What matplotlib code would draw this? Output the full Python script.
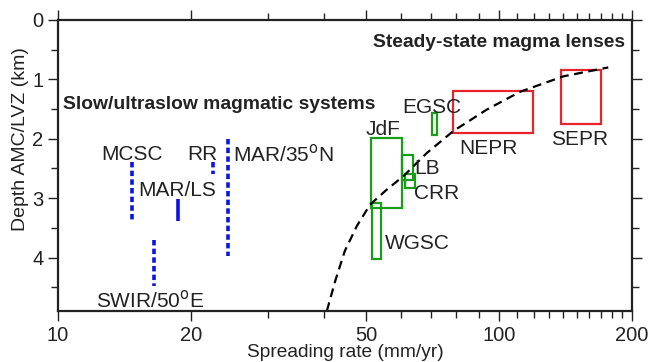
import matplotlib.pyplot as plt
from matplotlib.patches import Rectangle
from matplotlib.ticker import FixedLocator, NullFormatter

plt.rcParams['font.family'] = ['Liberation Sans', 'DejaVu Sans']

# slow/ultraslow systems: vertical depth ranges (blue)
slow_names = ['MCSC', 'SWIR/50$^{\\rm o}$E', 'MAR/LS', 'RR', 'MAR/35$^{\\rm o}$N']
slow_rate = [14.7, 16.5, 18.7, 22.5, 24.3]
slow_top = [2.40, 3.70, 3.01, 2.40, 2.00]
slow_bot = [3.40, 4.48, 3.39, 2.60, 3.98]
slow_dotted = [True, True, False, True, True]

# boxes: rate range and depth range
box_names = ['JdF', 'WGSC', 'LB', 'CRR', 'EGSC', 'NEPR', 'SEPR']
box_rate_lo = [51.2, 51.6, 60.4, 61.2, 70.4, 78.8, 138.0]
box_rate_hi = [60.2, 54.1, 63.7, 64.5, 72.5, 119.2, 170.0]
box_top = [1.99, 3.09, 2.27, 2.60, 1.57, 1.19, 0.84]
box_bot = [3.16, 4.02, 2.69, 2.83, 1.93, 1.90, 1.75]
box_colors = ['#1a9e1a'] * 5 + ['#e8242a'] * 2

# dashed trend line
trend_rate = [40.7, 42.5, 44.7, 47.6, 51.0, 55.6, 60.7, 68.6, 78.8, 93.8, 111.6, 139.9, 176.9]
trend_depth = [4.90, 4.40, 3.89, 3.47, 3.11, 2.86, 2.63, 2.24, 1.87, 1.51, 1.21, 0.95, 0.80]

# label positions (rate, depth)
label_pos = {
    'MCSC': (14.7, 2.26), 'RR': (21.2, 2.26), 'MAR/35$^{\\rm o}$N': (24.9, 2.26),
    'MAR/LS': (18.6, 2.88), 'SWIR/50$^{\\rm o}$E': (16.2, 4.72),
    'EGSC': (70.5, 1.48), 'JdF': (54.5, 1.84), 'LB': (64.2, 2.51),
    'CRR': (64.2, 2.92), 'WGSC': (55.0, 3.77), 'NEPR': (94.5, 2.16),
    'SEPR': (152.0, 2.01),
}
label_ha = {'MAR/35$^{\\rm o}$N': 'left', 'LB': 'left', 'CRR': 'left', 'WGSC': 'left'}

fig = plt.figure(figsize=(6.48, 3.62), dpi=100)
ax = fig.add_axes([0.0895, 0.141, 0.8855, 0.804])

for x, y0, y1, dot in zip(slow_rate, slow_top, slow_bot, slow_dotted):
    if dot:
        ax.plot([x, x], [y0, y1], color='#0a14e6', lw=2.6, linestyle=(0, (1.5, 0.9)),
                solid_capstyle='butt')
    else:
        ax.plot([x, x], [y0, y1], color='#0a14e6', lw=2.6, solid_capstyle='butt')

for lo, hi, t, b, c in zip(box_rate_lo, box_rate_hi, box_top, box_bot, box_colors):
    ax.add_patch(Rectangle((lo, t), hi - lo, b - t, fill=False, edgecolor=c, lw=1.6))

ax.plot(trend_rate, trend_depth, color='black', lw=1.6, linestyle=(0, (4, 2.5)))

for name, (x, y) in label_pos.items():
    ax.text(x, y, name, fontsize=15, ha=label_ha.get(name, 'center'), va='center',
            color='#222222')

ax.text(193, 0.38, 'Steady-state magma lenses', fontsize=13.9, fontweight='bold',
        ha='right', va='center', color='#222222')
ax.text(10.26, 1.43, 'Slow/ultraslow magmatic systems', fontsize=13.9, fontweight='bold',
        ha='left', va='center', color='#222222')

ax.set_xscale('log')
ax.set_xlim(10, 200)
ax.set_ylim(4.9, 0)
ax.xaxis.set_major_locator(FixedLocator([10, 20, 50, 100, 200]))
ax.xaxis.set_minor_locator(FixedLocator([30, 40, 60, 70, 80, 90, 110, 120, 130, 140,
                                         150, 160, 170, 180, 190]))
ax.xaxis.set_minor_formatter(NullFormatter())
ax.set_xticklabels(['10', '20', '50', '100', '200'])
ax.yaxis.set_major_locator(FixedLocator([0, 1, 2, 3, 4]))
ax.yaxis.set_minor_locator(FixedLocator([0.5, 1.5, 2.5, 3.5, 4.5]))
ax.tick_params(which='both', direction='out', top=True, right=True, labelsize=14.5,
               color='#222222', labelcolor='#222222', width=1)
ax.tick_params(which='major', length=7)
ax.tick_params(which='minor', length=5)
for s in ax.spines.values():
    s.set_linewidth(1.6)
    s.set_color('#222222')

ax.set_xlabel('Spreading rate (mm/yr)', fontsize=13.8, color='#222222')
ax.xaxis.set_label_coords(0.5, -0.113)
ax.set_ylabel('Depth AMC/LVZ (km)', fontsize=14, color='#222222')
ax.yaxis.set_label_coords(-0.05, 0.59)

fig.savefig('out.png', dpi=100)
